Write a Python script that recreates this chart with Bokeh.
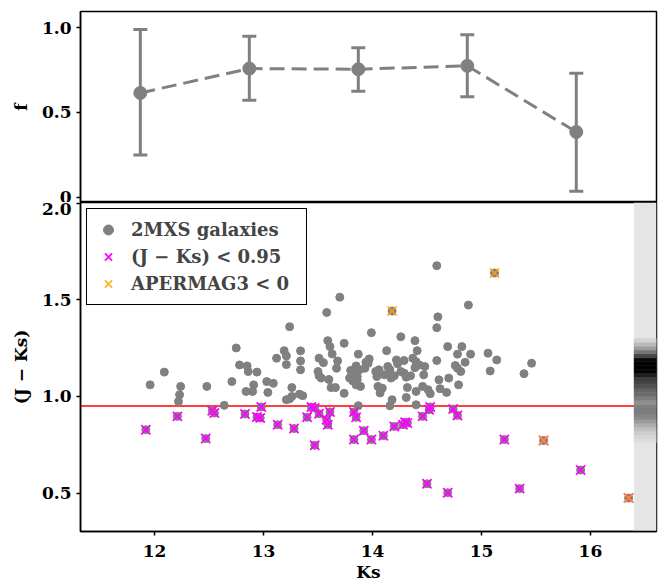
import numpy as np
from bokeh.plotting import figure
from bokeh.models import (Range1d, FixedTicker, Span, Whisker, TeeHead,
                          ColumnDataSource, PrintfTickFormatter)
from bokeh.layouts import column
from bokeh.embed import file_html
from bokeh.resources import INLINE

# ---------------- data ----------------
# top panel: fraction f per Ks bin
f_ks = [11.87, 12.87, 13.87, 14.87, 15.87]
f_val = [0.614, 0.758, 0.754, 0.774, 0.384]
f_lo = [0.248, 0.571, 0.624, 0.592, 0.035]
f_hi = [0.988, 0.949, 0.880, 0.957, 0.730]

# bottom panel: 2MXS galaxies (Ks, J-Ks)
ks_gal = [11.96, 12.09, 12.24, 12.23, 12.22, 12.48, 12.61, 12.64, 12.71, 12.75,
          12.78, 12.85, 12.84, 12.86, 12.91, 12.90, 12.94, 13.03, 13.09, 13.04,
          13.12, 13.19, 13.21, 13.21, 13.24, 13.28, 13.26, 13.26, 13.24, 13.21,
          13.34, 13.34, 13.34, 13.33, 13.36, 13.50, 13.51, 13.53, 13.51, 13.55,
          13.58, 13.59, 13.61, 13.63, 13.68, 13.67, 13.60, 13.62, 13.66, 13.70,
          13.74, 13.74, 13.80, 13.79, 13.82, 13.85, 13.87, 13.85, 13.87, 13.83,
          13.86, 13.88, 13.93, 13.86, 13.89, 13.94, 13.97, 13.96, 13.99, 14.03,
          14.06, 14.04, 14.11, 14.16, 14.14, 14.20, 14.17, 14.26, 14.29, 14.31,
          14.35, 14.39, 14.47, 14.61, 14.70, 14.79, 14.05, 14.09, 14.07, 14.32,
          14.40, 14.46, 14.51, 14.53, 14.62, 14.68, 14.18, 14.31, 14.40, 14.16,
          14.22, 14.23, 14.29, 14.37, 14.40, 14.43, 14.48, 14.13, 14.41, 14.26,
          14.39, 14.59, 14.69, 14.82, 14.78, 14.90, 14.85, 14.76, 14.78, 14.81,
          14.88, 14.60, 14.59, 14.59, 15.06, 15.14, 15.46, 15.39, 15.08,
          # J-Ks < 0.95
          11.92, 12.21, 12.47, 12.53, 12.55, 12.83, 12.98, 12.94, 12.97, 13.13,
          13.28, 13.40, 13.44, 13.47, 13.47, 13.51, 13.58, 13.59, 13.61, 13.83,
          13.85, 13.83, 13.92, 13.99, 14.10, 14.20, 14.28, 14.30, 14.32, 14.46,
          14.52, 14.53, 14.74, 14.78, 15.21, 14.50, 14.69, 15.35, 15.91]
jk_gal = [1.060, 1.126, 1.052, 1.009, 0.974, 1.052, 1.653, 0.954, 1.077, 1.251,
          1.163, 1.158, 1.026, 1.129, 1.060, 1.026, 1.126, 1.077, 1.068, 1.021,
          1.198, 1.237, 1.210, 1.165, 1.361, 1.507, 1.046, 1.000, 0.988, 0.983,
          1.236, 1.184, 1.138, 1.012, 1.004, 1.129, 1.107, 1.095, 1.198, 1.175,
          1.435, 1.289, 1.258, 1.220, 1.184, 1.146, 1.088, 1.046, 1.046, 1.514,
          1.275, 1.016, 1.135, 1.095, 1.080, 1.158, 1.219, 1.060, 0.952, 1.112,
          1.104, 1.138, 1.146, 1.086, 1.052, 1.177, 1.194, 1.172, 1.330, 1.129,
          1.138, 1.103, 1.112, 1.138, 1.155, 1.107, 1.095, 1.129, 1.121, 1.100,
          1.107, 1.149, 1.112, 1.086, 1.095, 1.060, 1.052, 1.043, 1.018, 1.046,
          1.026, 1.052, 1.035, 1.014, 1.040, 1.021, 0.983, 0.995, 0.957, 0.952,
          1.189, 1.169, 1.186, 1.198, 1.180, 1.163, 1.155, 1.237, 1.237, 1.309,
          1.289, 1.186, 1.258, 1.258, 1.219, 1.219, 1.177, 1.160, 1.146, 1.129,
          1.473, 1.412, 1.356, 1.677, 1.224, 1.189, 1.172, 1.118, 1.132,
          # J-Ks < 0.95
          0.828, 0.897, 0.782, 0.926, 0.914, 0.909, 0.946, 0.894, 0.889, 0.854,
          0.834, 0.892, 0.945, 0.940, 0.747, 0.911, 0.880, 0.854, 0.920, 0.920,
          0.892, 0.777, 0.823, 0.777, 0.797, 0.845, 0.854, 0.866, 0.863, 0.897,
          0.931, 0.946, 0.935, 0.902, 0.777, 0.548, 0.502, 0.523, 0.619]

# galaxies with APERMAG3 < 0
ks_aperneg = [14.18, 15.12, 15.57, 16.35]
jk_aperneg = [1.442, 1.639, 0.772, 0.474]

jk_cut = 0.95

# J-Ks density strip (relative density per bin of 0.02)
strip_bin_lo = [0.76, 0.78, 0.80, 0.82, 0.84, 0.86, 0.88, 0.90, 0.92, 0.94,
                0.96, 0.98, 1.00, 1.02, 1.04, 1.06, 1.08, 1.10, 1.12, 1.14,
                1.16, 1.18, 1.20, 1.22, 1.24, 1.26, 1.28]
strip_density = [0.03, 0.06, 0.10, 0.16, 0.24, 0.32, 0.40, 0.45, 0.46, 0.44,
                 0.38, 0.46, 0.53, 0.56, 0.64, 0.70, 0.74, 0.86, 0.98, 1.00,
                 1.00, 0.96, 0.70, 0.48, 0.32, 0.19, 0.08]
strip_bin_w = 0.02

x_ticks = [12, 13, 14, 15, 16]
f_ticks = [0, 0.5, 1.0]
jk_ticks = [0.5, 1.0, 1.5, 2.0]

# ---------------- styling ----------------
FONT = "DejaVu Serif"
GRAY = "#808080"
FW = 576
LB = 80
FS = "17px"


def style_axis(ax):
    ax.axis_line_width = 1.5
    ax.axis_line_color = "black"
    ax.major_tick_line_width = 1.5
    ax.major_tick_line_color = "black"
    ax.minor_tick_line_color = None
    ax.major_tick_out = 4
    ax.major_tick_in = 0
    ax.major_label_text_font = FONT
    ax.major_label_text_font_style = "bold"
    ax.major_label_text_font_size = FS
    ax.major_label_text_color = "black"
    ax.axis_label_text_font = FONT
    ax.axis_label_text_font_style = "bold"
    ax.axis_label_text_font_size = FS
    ax.axis_label_text_color = "black"


xr = Range1d(11.321, 16.606)

# ---------------- top panel ----------------
top = figure(frame_width=FW, frame_height=191, x_range=xr, y_range=Range1d(-0.032, 1.0945),
             output_backend="svg", toolbar_location=None,
             min_border_left=LB, min_border_right=2, min_border_top=11, min_border_bottom=0)
top.grid.visible = False
top.outline_line_color = "black"
top.outline_line_width = 1.5
top.outline_line_alpha = 1.0
top.background_fill_color = "white"
top.border_fill_color = "white"
for ax in top.yaxis:
    style_axis(ax)
top.xaxis.visible = False
top.yaxis.ticker = FixedTicker(ticks=f_ticks)
top.yaxis.formatter = PrintfTickFormatter(format="%.1f")
top.yaxis.major_label_overrides = {0: "0"}
top.yaxis.axis_label = "f"
top.yaxis.axis_label_standoff = 8

src_f = ColumnDataSource(dict(x=f_ks, y=f_val, lo=f_lo, hi=f_hi))
wh = Whisker(base="x", lower="lo", upper="hi", source=src_f, line_color=GRAY, line_width=3,
             upper_head=TeeHead(size=14, line_color=GRAY, line_width=3),
             lower_head=TeeHead(size=14, line_color=GRAY, line_width=3))
top.add_layout(wh)
top.line(x="x", y="y", source=src_f, line_color=GRAY, line_width=3, line_dash="15 7")
top.scatter(x="x", y="y", source=src_f, size=13, color=GRAY)

# ---------------- bottom panel ----------------
yr = Range1d(0.301, 2.004)
bot = figure(frame_width=FW, frame_height=329, x_range=xr, y_range=yr,
             output_backend="svg", toolbar_location=None,
             min_border_left=LB, min_border_right=2, min_border_top=0, min_border_bottom=0)
bot.grid.visible = False
bot.outline_line_color = "black"
bot.outline_line_width = 1.5
bot.outline_line_alpha = 1.0
bot.background_fill_color = "white"
bot.border_fill_color = "white"
for ax in bot.xaxis + bot.yaxis:
    style_axis(ax)
bot.xaxis.ticker = FixedTicker(ticks=x_ticks)
bot.xaxis.major_label_standoff = 9
bot.xaxis.axis_label = "Ks"
bot.xaxis.axis_label_standoff = 2
bot.yaxis.ticker = FixedTicker(ticks=jk_ticks)
bot.yaxis.formatter = PrintfTickFormatter(format="%.1f")
bot.yaxis.axis_label = "(J \u2212 Ks)"
bot.yaxis.axis_label_standoff = 8

# red cut line
bot.add_layout(Span(location=jk_cut, dimension="width", line_color="red", line_width=1.5,
                    level="underlay"))

ks_all = ks_gal + ks_aperneg
jk_all = jk_gal + jk_aperneg
ks_arr = np.array(ks_all)
jk_arr = np.array(jk_all)
sel = jk_arr < jk_cut

bot.scatter(ks_all, jk_all, size=8, color=GRAY, legend_label="2MXS galaxies")
bot.scatter(ks_arr[sel], jk_arr[sel], marker="x", size=13, line_color="magenta",
            line_width=1.8, line_alpha=1.0, legend_label="(J \u2212 Ks) < 0.95")
bot.scatter(ks_aperneg, jk_aperneg, marker="x", size=13, line_color="orange",
            line_width=1.8, line_alpha=0.85, legend_label="APERMAG3 < 0")

# density strip
strip_x0 = 16.4
bot.quad(left=strip_x0, right=xr.end, bottom=yr.start, top=yr.end,
         fill_color="#e5e5e5", line_color=None)
lo = np.array(strip_bin_lo)
dens = np.array(strip_density)
grays = [int(round(229 * (1 - d))) for d in dens]
cols = ["#%02x%02x%02x" % (g, g, g) for g in grays]
bot.quad(left=strip_x0, right=xr.end, bottom=lo, top=lo + strip_bin_w,
         fill_color=cols, line_color=cols, line_width=0.5)

lg = bot.legend[0]
lg.location = "top_left"
lg.margin = 6
lg.padding = 8
lg.spacing = 2
lg.glyph_width = 26
lg.glyph_height = 25
lg.label_height = 25
lg.label_width = 167
lg.label_standoff = 10
lg.label_text_font = FONT
lg.label_text_font_style = "bold"
lg.label_text_font_size = "18px"
lg.border_line_color = "black"
lg.border_line_width = 1.5
lg.border_line_alpha = 1.0
lg.background_fill_alpha = 1.0

layout = column(top, bot, spacing=0)
open("out.html", "w").write(file_html(layout, INLINE))
